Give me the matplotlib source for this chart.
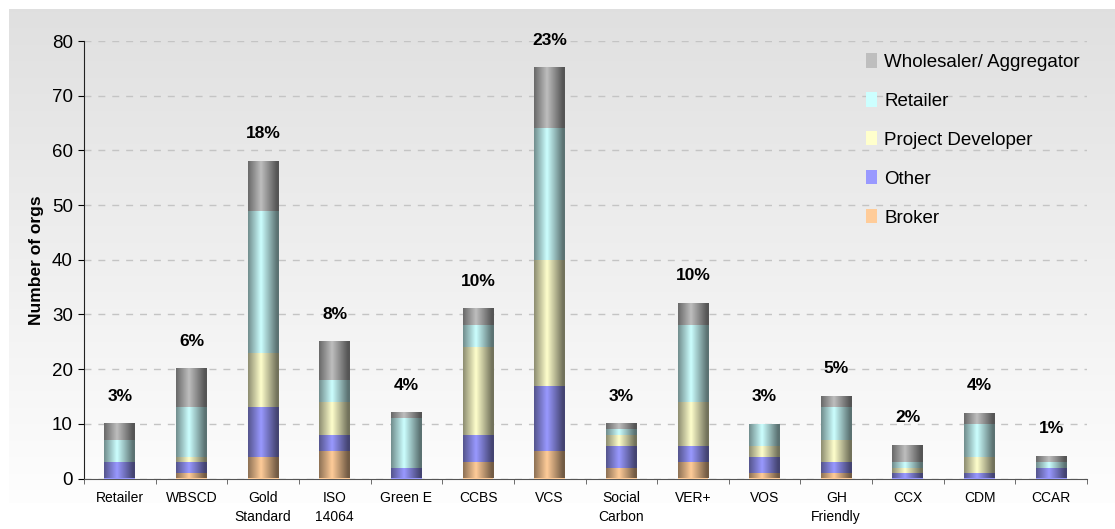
import numpy as np
import matplotlib.pyplot as plt
from matplotlib.colors import to_rgb
from matplotlib.ticker import FixedLocator

plt.rcParams['font.family'] = ['Liberation Sans', 'DejaVu Sans']

categories = ['Retailer', 'WBSCD', 'Gold\nStandard', 'ISO\n14064', 'Green E', 'CCBS', 'VCS',
              'Social\nCarbon', 'VER+', 'VOS', 'GH\nFriendly', 'CCX', 'CDM', 'CCAR']
broker = [0, 1, 4, 5, 0, 3, 5, 2, 3, 1, 1, 0, 0, 0]
other = [3, 2, 9, 3, 2, 5, 12, 4, 3, 3, 2, 1, 1, 2]
project_dev = [0, 1, 10, 6, 0, 16, 23, 2, 8, 2, 4, 1, 3, 0]
retailer = [4, 9, 26, 4, 9, 4, 24, 1, 14, 4, 6, 1, 6, 1]
wholesaler = [3, 7, 9, 7, 1, 3, 11, 1, 4, 0, 2, 3, 2, 1]
pct_labels = ['3%', '6%', '18%', '8%', '4%', '10%', '23%', '3%', '10%', '3%', '5%', '2%', '4%', '1%']

series = [
    ('Broker', broker, '#ffcc99'),
    ('Other', other, '#9999ff'),
    ('Project Developer', project_dev, '#ffffcc'),
    ('Retailer', retailer, '#ccffff'),
    ('Wholesaler/ Aggregator', wholesaler, '#bebebe'),
]

W, H = 1115, 529
fig = plt.figure(figsize=(W / 100, H / 100), dpi=100)

# grey-to-white panel behind the chart
bg = fig.add_axes([0, 0, 1, 1], zorder=-5)
bg.set_xlim(0, W)
bg.set_ylim(H, 0)
bg.axis('off')
grad = np.linspace(0.878, 0.995, 256).reshape(-1, 1)
bg.imshow(np.dstack([grad, grad, grad]), extent=[9, W, 503, 9], aspect='auto',
          interpolation='bilinear')

ax = fig.add_axes([84 / W, (H - 478.5) / H, (1087 - 84) / W, (478.5 - 41) / H])
ax.set_facecolor('none')

x = np.arange(len(categories))
bottom = np.zeros(len(categories))
rects = []
for name, vals, col in series:
    bars = ax.bar(x, vals, 0.43, bottom=bottom, color=col, label=name, zorder=3)
    rects.extend(bars.patches)
    bottom += np.array(vals)

# cylinder shading on each bar segment
t = np.linspace(0, 1, 64)
dark = 0.55 * np.clip(np.abs(t - 0.42) / 0.52, 0, 1) ** 1.0
for r in rects:
    if r.get_height() <= 0:
        continue
    base = np.array(to_rgb(r.get_facecolor()))
    img = (1 - dark)[None, :, None] * base[None, None, :]
    x0, y0 = r.get_x(), r.get_y()
    ax.imshow(img, extent=[x0, x0 + r.get_width(), y0, y0 + r.get_height()],
              aspect='auto', interpolation='bilinear', zorder=4)

for xi, tot, lab in zip(x, bottom, pct_labels):
    ax.annotate(lab, (xi, tot), xytext=(0, 20), textcoords='offset points',
                ha='center', va='center', fontsize=12.5, fontweight='bold')

ax.set_xlim(-0.5, len(categories) - 0.5)
ax.set_ylim(0, 80)
ax.set_yticks(range(0, 81, 10))
ax.set_xticks(x)
ax.set_xticklabels(categories, fontsize=10, linespacing=1.45)
ax.xaxis.set_minor_locator(FixedLocator(np.arange(-0.5, len(categories), 1)))
ax.tick_params(axis='x', which='major', length=0, pad=9)
ax.tick_params(axis='x', which='minor', length=3.5, direction='out', color='#555555')
ax.tick_params(axis='y', length=4, direction='out', labelsize=13.5, pad=4)

ax.yaxis.grid(True, linestyle=(0, (5, 5)), color='#c4c4c4', linewidth=1, zorder=0)
ax.set_axisbelow(True)
for s in ['top', 'right']:
    ax.spines[s].set_visible(False)
ax.spines['left'].set_color('#222222')
ax.spines['bottom'].set_color('#555555')

ax.set_ylabel('Number of orgs', fontsize=12.5, fontweight='bold', labelpad=6)

handles, labels = ax.get_legend_handles_labels()
leg = fig.legend(handles[::-1], labels[::-1], loc='upper left',
                 bbox_to_anchor=(857 / W, (H - 44) / H), frameon=False, fontsize=13.5,
                 labelspacing=1.13, handlelength=0.55, handleheight=0.8,
                 handletextpad=0.4, borderpad=0)

fig.savefig('out.png', dpi=100)
